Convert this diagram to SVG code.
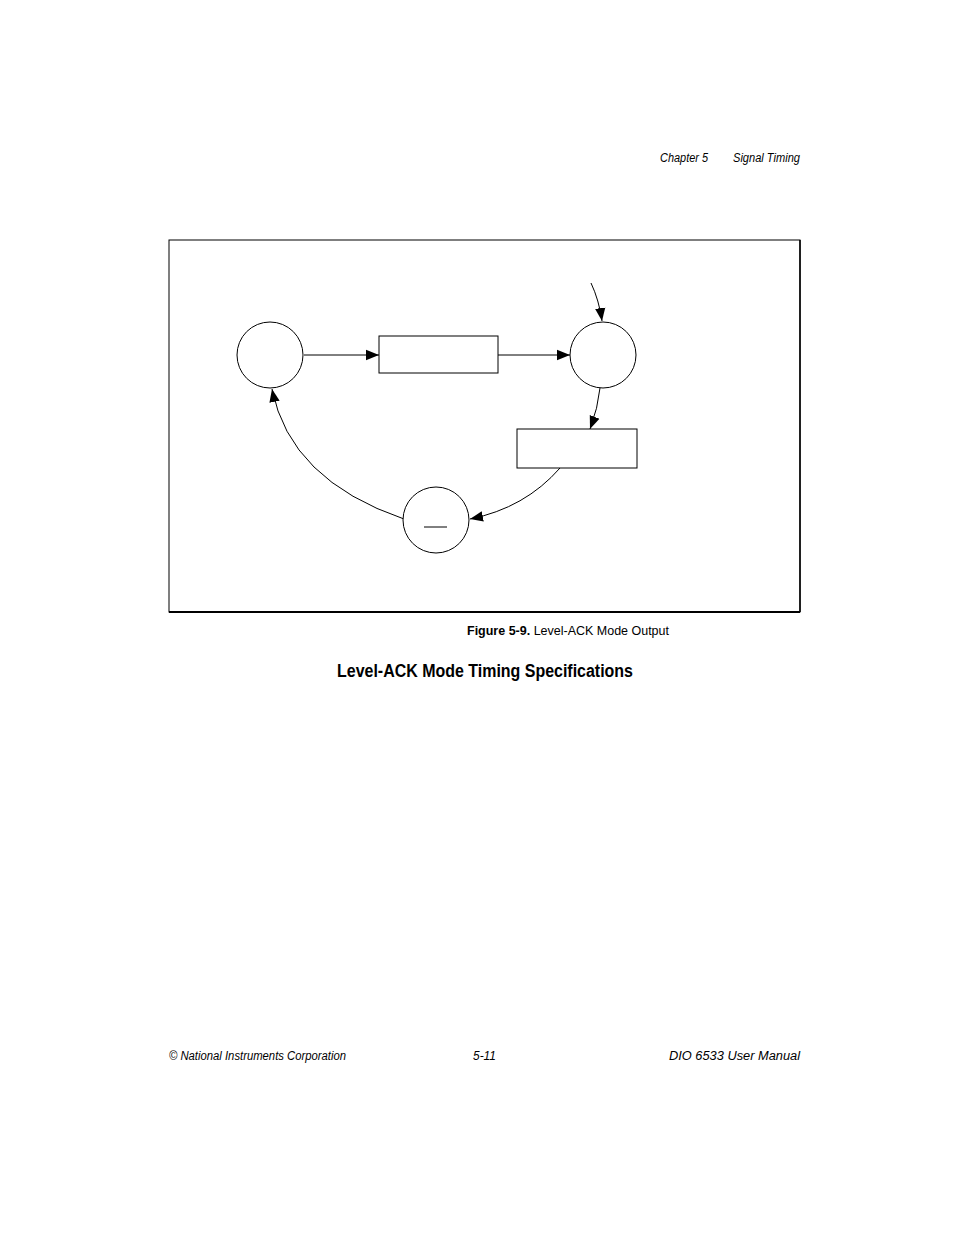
<svg xmlns="http://www.w3.org/2000/svg" width="954" height="1235" viewBox="0 0 954 1235">
<style>
.n{fill:#fff;stroke:#000;stroke-width:1}
.c{fill:none;stroke:#000;stroke-width:1}
.t{font-family:"Liberation Sans",Arial,sans-serif;fill:#000}
</style>
<defs><marker id="a" viewBox="0 0 10 10" refX="10" refY="5" markerWidth="13" markerHeight="13" markerUnits="userSpaceOnUse" orient="auto"><path d="M0,1 L10,5 L0,9z" fill="#000"/></marker></defs>
<rect width="954" height="1235" fill="#fff"/>
<text class="t" x="660" y="162" font-size="12" font-style="italic" textLength="48" lengthAdjust="spacingAndGlyphs">Chapter 5</text>
<text class="t" x="733" y="162" font-size="12" font-style="italic" textLength="67" lengthAdjust="spacingAndGlyphs">Signal Timing</text>
<rect x="169" y="240" width="631" height="372" fill="none" stroke="#000" stroke-width="1"/>
<line x1="169" y1="612" x2="800" y2="612" stroke="#000" stroke-width="2"/>
<line x1="800" y1="240" x2="800" y2="612" stroke="#000" stroke-width="1.5"/>
<g id="connectors">
<line class="c" x1="304" y1="355" x2="379" y2="355" marker-end="url(#a)"/>
<line class="c" x1="498" y1="355" x2="570" y2="355" marker-end="url(#a)"/>
<path class="c" d="M591,283 Q599,300 602,321" marker-end="url(#a)"/>
<path class="c" d="M600,388 Q598,408 590,429" marker-end="url(#a)"/>
<path class="c" d="M560,468 Q525,508 470,519" marker-end="url(#a)"/>
<path class="c" d="M404,519 Q290,480 272,389" marker-end="url(#a)"/>
</g>
<g id="n1"><ellipse class="n" cx="270" cy="355" rx="33" ry="33"/></g>
<g id="n2"><rect class="n" x="379" y="336" width="119" height="37"/></g>
<g id="n3"><ellipse class="n" cx="603" cy="355" rx="33" ry="33"/></g>
<g id="n4"><rect class="n" x="517" y="429" width="120" height="39"/></g>
<g id="n5"><ellipse class="n" cx="436" cy="520" rx="33" ry="33"/><line x1="424" y1="527" x2="447" y2="527" stroke="#000"/></g>
<text class="t" x="467" y="635" font-size="13" textLength="202" lengthAdjust="spacingAndGlyphs"><tspan font-weight="bold">Figure 5-9.</tspan>  Level-ACK Mode Output</text>
<text class="t" x="337" y="677" font-size="18" font-weight="bold" textLength="296" lengthAdjust="spacingAndGlyphs">Level-ACK Mode Timing Specifications</text>
<text class="t" x="169" y="1060" font-size="12" font-style="italic" textLength="177" lengthAdjust="spacingAndGlyphs">© National Instruments Corporation</text>
<text class="t" x="473" y="1060" font-size="12" font-style="italic" textLength="23" lengthAdjust="spacingAndGlyphs">5-11</text>
<text class="t" x="669" y="1060" font-size="12" font-style="italic" textLength="131" lengthAdjust="spacingAndGlyphs">DIO 6533 User Manual</text>
</svg>
